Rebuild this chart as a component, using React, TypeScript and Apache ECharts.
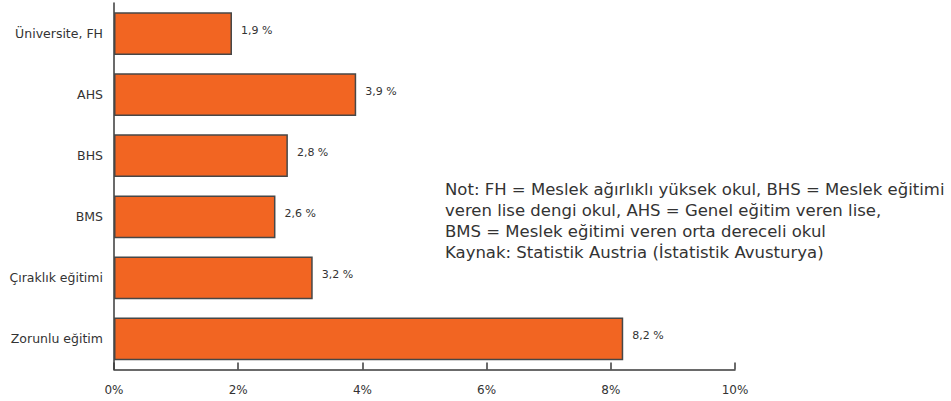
import React, { useEffect, useRef } from "react";
import * as echarts from "echarts";

const categories = [
  "Zorunlu eğitim",
  "Çıraklık eğitimi",
  "BMS",
  "BHS",
  "AHS",
  "Üniversite, FH",
];
const values = [8.2, 3.2, 2.6, 2.8, 3.9, 1.9];
const xTicks = [0, 2, 4, 6, 8, 10];
const noteLines = [
  "Not: FH = Meslek ağırlıklı yüksek okul, BHS = Meslek eğitimi",
  "veren lise dengi okul, AHS = Genel eğitim veren lise,",
  "BMS = Meslek eğitimi veren orta dereceli okul",
  "Kaynak: Statistik Austria (İstatistik Avusturya)",
];

const FONT = "'DejaVu Sans', sans-serif";
const TEXT = "#333333";
const AXIS = "#3a3a3a";

export default function App() {
  const ref = useRef<HTMLDivElement>(null);
  useEffect(() => {
    if (!ref.current) return;
    const chart = echarts.init(ref.current, undefined, { renderer: "svg" });
    chart.setOption({
      animation: false,
      textStyle: { fontFamily: FONT },
      grid: { left: 114, right: 216, top: 3, bottom: 31.5, containLabel: false },
      xAxis: {
        type: "value",
        min: xTicks[0],
        max: xTicks[xTicks.length - 1],
        interval: 2,
        axisLine: { show: true, lineStyle: { color: AXIS, width: 1.5 } },
        axisTick: { show: true, inside: true, length: 7, lineStyle: { color: AXIS, width: 1.5 } },
        splitLine: { show: false },
        axisLabel: {
          formatter: (v: number) => `${v}%`,
          color: TEXT,
          fontSize: 12,
          fontFamily: FONT,
          margin: 14,
        },
      },
      yAxis: {
        type: "category",
        data: categories,
        axisLine: { show: true, lineStyle: { color: AXIS, width: 1.5 } },
        axisTick: { show: false },
        axisLabel: { color: TEXT, fontSize: 12.5, fontFamily: FONT, margin: 11 },
      },
      series: [
        {
          type: "bar",
          data: values,
          barCategoryGap: "30%",
          itemStyle: { color: "#F26522", borderColor: "#474747", borderWidth: 1.5 },
          label: {
            show: true,
            position: "right",
            distance: 9,
            offset: [0, -3],
            color: TEXT,
            fontSize: 11,
            fontFamily: FONT,
            formatter: (p: any) => `${String(p.value).replace(".", ",")} %`,
          },
        },
      ],
      graphic: [
        {
          type: "text",
          left: 445,
          top: 179,
          style: {
            text: noteLines.join("\n"),
            fill: TEXT,
            fontSize: 16.5,
            fontFamily: FONT,
            lineHeight: 21,
          },
        },
      ],
    });
    return () => chart.dispose();
  }, []);
  return (
    <div
      ref={ref}
      style={{ position: "absolute", left: 0, top: 0, width: 951, height: 401 }}
    />
  );
}
